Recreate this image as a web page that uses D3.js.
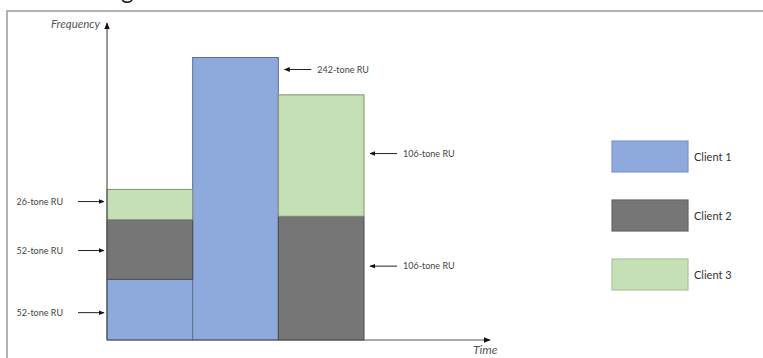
<!DOCTYPE html>
<html><head><meta charset="utf-8">
<script src="https://cdn.jsdelivr.net/npm/d3@7"></script>
<style>body{margin:0;background:#fff;}svg{display:block;}</style>
</head><body>
<script>
// ---- data ----
const slots = ["slot1", "slot2", "slot3"];
const clients = ["Client 1", "Client 2", "Client 3"];
const client1 = [52, 242, 0];
const client2 = [51, 0, 106];
const client3 = [26, 0, 104];
const colors = ["#8eaadc", "#767676", "#c5e0b4"];
const strokes = ["#5e6f91", "#4a4a4a", "#7f9270"];
const legendStrokes = ["#7b96c8", "#666666", "#a9c49a"];
// annotations: slot index, stack level (client index), text, side
const annoSlot = [0, 0, 0, 1, 2, 2];
const annoLevel = [0, 1, 2, 0, 2, 1];
const annoText = ["52-tone RU", "52-tone RU", "26-tone RU", "242-tone RU", "106-tone RU", "106-tone RU"];
const annoSide = ["left", "left", "left", "right", "right", "right"];

const W = 763, H = 358;
const svg = d3.select("body").append("svg").attr("width", W).attr("height", H);
const font = "Lato, 'Open Sans', sans-serif";

// cropped title glyph at top (as in the reference)
svg.append("text").attr("x", 121).attr("y", -1).attr("font-family", font)
  .attr("font-size", 24).attr("fill", "#222").text("g");

// frame
svg.append("rect").attr("x", 7).attr("y", 11).attr("width", 800).attr("height", 400)
  .attr("fill", "none").attr("stroke", "#9a9a9a").attr("stroke-width", 1.5);

const x = d3.scaleBand().domain(slots).range([107, 364]).padding(0);
const y = d3.scaleLinear().domain([0, 242]).range([340, 57.5]);

const defs = svg.append("defs");
defs.append("marker").attr("id", "ah").attr("viewBox", "0 0 10 10").attr("refX", 9).attr("refY", 5)
  .attr("markerWidth", 6).attr("markerHeight", 6).attr("orient", "auto-start-reverse")
  .append("path").attr("d", "M0,1 L10,5 L0,9 Z").attr("fill", "#111");

const table = slots.map((s, i) => ({slot: s, c0: client1[i], c1: client2[i], c2: client3[i]}));
const stack = d3.stack().keys(["c0", "c1", "c2"])(table);

stack.forEach((layer, k) => {
  svg.append("g").selectAll("rect").data(layer.filter(d => d[1] > d[0])).join("rect")
    .attr("x", d => x(d.data.slot))
    .attr("width", x.bandwidth())
    .attr("y", d => y(d[1]))
    .attr("height", d => y(d[0]) - y(d[1]))
    .attr("fill", colors[k])
    .attr("stroke", strokes[k]).attr("stroke-width", 1);
});

// axes (arrows)
svg.append("line").attr("x1", 107).attr("y1", 340).attr("x2", 107).attr("y2", 23)
  .attr("stroke", "#555").attr("stroke-width", 1.2).attr("marker-end", "url(#ah)");
svg.append("line").attr("x1", 107).attr("y1", 340).attr("x2", 490).attr("y2", 340)
  .attr("stroke", "#555").attr("stroke-width", 1.2).attr("marker-end", "url(#ah)");
svg.append("text").attr("x", 100).attr("y", 28).attr("text-anchor", "end")
  .attr("font-family", font).attr("font-style", "italic").attr("font-size", 11.5)
  .attr("fill", "#555").text("Frequency");
svg.append("text").attr("x", 473).attr("y", 354)
  .attr("font-family", font).attr("font-style", "italic").attr("font-size", 12)
  .attr("fill", "#555").text("Time");

// annotations
annoText.forEach((t, i) => {
  const si = annoSlot[i];
  const s = slots[si];
  const seg = stack[annoLevel[i]][si];
  let yc = (y(seg[0]) + y(seg[1])) / 2;
  if (annoSide[i] === "left") {
    yc += (annoLevel[i] === 2 ? -3 : 1) + (annoLevel[i] === 0 ? 2 : 0);
    const x0 = x(s);
    svg.append("line").attr("x1", x0 - 29).attr("x2", x0 - 3).attr("y1", yc).attr("y2", yc)
      .attr("stroke", "#222").attr("stroke-width", 1).attr("marker-end", "url(#ah)");
    svg.append("text").attr("x", x0 - 44).attr("y", yc + 3).attr("text-anchor", "end")
      .attr("font-family", font).attr("font-size", 9).attr("fill", "#444").text(t);
  } else {
    if (si === 1) yc = y(seg[1]) + 12;
    else if (annoLevel[i] === 1) yc -= 12;
    else yc -= 2;
    const x1 = x(s) + x.bandwidth();
    svg.append("line").attr("x1", x1 + 33).attr("x2", x1 + 6).attr("y1", yc).attr("y2", yc)
      .attr("stroke", "#222").attr("stroke-width", 1).attr("marker-end", "url(#ah)");
    svg.append("text").attr("x", x1 + 39).attr("y", yc + 3)
      .attr("font-family", font).attr("font-size", 9).attr("fill", "#444").text(t);
  }
});

// legend
const ly = d3.scalePoint().domain(clients).range([141, 259]);
const lg = svg.append("g");
clients.forEach((c, i) => {
  lg.append("rect").attr("x", 612).attr("y", ly(c)).attr("width", 76).attr("height", 31)
    .attr("fill", colors[i]).attr("stroke", legendStrokes[i]).attr("stroke-width", 1.2);
  lg.append("text").attr("x", 694).attr("y", ly(c) + 19.5)
    .attr("font-family", font).attr("font-size", 11).attr("fill", "#333").text(c);
});
</script>
</body></html>
